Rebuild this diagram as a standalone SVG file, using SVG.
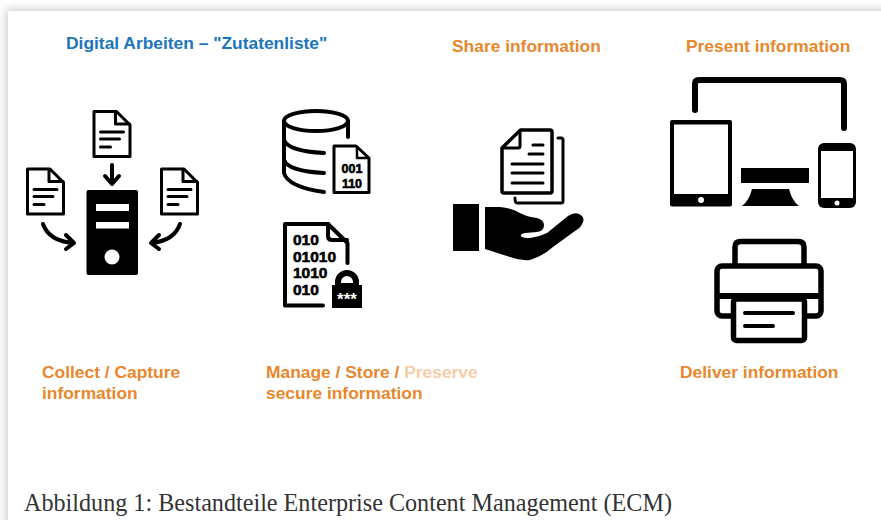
<svg xmlns="http://www.w3.org/2000/svg" width="881" height="520" viewBox="0 0 881 520">
<style>
.o{font:bold 17.400px "Liberation Sans",Arial,sans-serif;fill:#E8872B}
.b{font:bold 17.400px "Liberation Sans",Arial,sans-serif;fill:#1C75BC}
.c{font:25.500px "Liberation Serif","Times New Roman",serif;fill:#333}
.k{fill:none;stroke:#000;stroke-linejoin:round;stroke-linecap:round}
.n{font:bold 15.500px "Liberation Sans",Arial,sans-serif;fill:#000;stroke:#000;stroke-width:.6px}
</style>
<defs>
<filter id="sh" x="-5%" y="-5%" width="110%" height="110%"><feGaussianBlur stdDeviation="4"/></filter>
<g id="doc">
<path d="M1.500 1.500H24L37.500 15V46.500H1.500Z" fill="#fff" stroke="#000" stroke-width="3" stroke-linejoin="round"/>
<path d="M23 2V14H37M8 22H31M8 29H27M8 37H18" class="k" stroke-width="3"/>
</g>
</defs>
<rect width="881" height="520" fill="#fff"/>
<rect x="6" y="9" width="900" height="540" fill="#ccc" filter="url(#sh)"/>
<rect x="8" y="11" width="880" height="520" fill="#fff"/>

<g id="title"><text class="b" x="66" y="49">Digital Arbeiten – "Zutatenliste"</text></g>

<g id="collect">
<use href="#doc" x="92.500" y="110"/>
<use href="#doc" x="26" y="167.500"/>
<use href="#doc" x="160" y="167.500"/>
<rect x="86.500" y="190" width="51.500" height="85" rx="2" fill="#000"/>
<rect x="96" y="204" width="33" height="7" fill="#fff"/>
<rect x="96" y="222" width="33" height="6.500" fill="#fff"/>
<circle cx="112" cy="257" r="7.500" fill="#fff"/>
<text class="o" x="42" y="377.500">Collect / Capture</text>
<text class="o" x="42" y="398.500">information</text>
</g>

<g id="connectors">
<path d="M112 165V183M105 176L112 184L119 176" class="k" stroke-width="4"/>
<path d="M43 224Q49 241 73 243M66 235L74 243L66 249" class="k" stroke-width="4"/>
<path d="M180 224Q174 241 151 243M159 235L151 243L159 249" class="k" stroke-width="4"/>
</g>

<g id="manage">
<ellipse cx="316" cy="121" rx="32" ry="10" fill="none" stroke="#000" stroke-width="4"/>
<path d="M284 121V173Q288 187 324 192M348 121V137M284 140Q288 151 324 153M284 160Q288 171 324 173" class="k" stroke-width="4" stroke-linecap="butt"/>
<path d="M334 146H356L369 158V192.500H334Z" fill="#fff" stroke="#000" stroke-width="3" stroke-linejoin="round"/>
<path d="M357 147V158H368" class="k" stroke-width="2.500"/>
<text class="n" style="font-size:12.500px" x="352" y="173" text-anchor="middle">001</text>
<text class="n" style="font-size:12.500px" x="352" y="188" text-anchor="middle">110</text>
<path d="M323 305.500H285V224H328L347.500 243V263" class="k" stroke-width="4" stroke-linecap="butt"/>
<path d="M328 224V236Q328 240 332 240H347" class="k" stroke-width="4"/>
<text class="n" x="293" y="245">010</text>
<text class="n" x="293" y="261.500">01010</text>
<text class="n" x="293" y="278">1010</text>
<text class="n" x="293" y="295">010</text>
<path d="M338 286V282A9 9 0 0 1 356 282V286Z" fill="none" stroke="#000" stroke-width="6"/>
<rect x="332" y="285" width="30" height="23" fill="#000"/>
<text x="347" y="305" text-anchor="middle" style="font:bold 17px 'Liberation Sans',Arial,sans-serif;fill:#fff">***</text>
<text class="o" x="266" y="377.500">Manage / Store / <tspan fill="#F6CDA6">Preserve</tspan></text>
<text class="o" x="266" y="398.500">secure information</text>
</g>

<g id="share">
<text class="o" x="452" y="51.500">Share information</text>
<path d="M520.500 130H550Q552 130 552 132V191Q552 193 550 193H504Q502 193 502 191V148Z" fill="#fff" stroke="#000" stroke-width="3.500" stroke-linejoin="round"/>
<path d="M520 131V146Q520 148 518 148H503M533 145H543M529 154H543M512 164H543M512 173H543M512 183H543" class="k" stroke-width="3"/>
<path d="M558 138H561Q563 138 563 140V201Q563 203 561 203H517Q515 203 515 198" class="k" stroke-width="3"/>
<rect x="453" y="204" width="26" height="47" fill="#000"/>
<path d="M485 207H500Q512 208 520 213Q527 217 537 218Q544 220 544 225Q544 231 537 232L525 233Q520 234 521 236Q522 238 530 238Q539 237 547 233L568 216Q574 212 579 214Q585 217 583 222Q581 228 575 231L553 247Q543 256 530 260Q520 261 510 257L485 249Z" fill="#000"/>
</g>

<g id="present">
<text class="o" x="686" y="51.500">Present information</text>
<path d="M695 110V84Q695 80 699 80H840Q844 80 844 84V128" class="k" stroke-width="6" stroke-linecap="butt"/>
<rect x="670" y="120" width="62" height="86.500" rx="2" fill="#000"/>
<rect x="674" y="124.500" width="54" height="69.500" fill="#fff"/>
<circle cx="701" cy="200" r="3" fill="#fff"/>
<rect x="741" y="168" width="68" height="15" fill="#000"/>
<path d="M752 189H789Q792 201 799 206H742Q749 201 752 189Z" fill="#000"/>
<rect x="818" y="143" width="38" height="65" rx="6" fill="#000"/>
<rect x="821" y="151" width="32" height="47" fill="#fff"/>
<circle cx="837" cy="203" r="2.500" fill="#fff"/>
</g>

<g id="deliver">
<path d="M735 264V247Q735 241.500 741 241.500H798Q804 241.500 804 247V264" class="k" stroke-width="5.500"/>
<rect x="717" y="266" width="104" height="50" rx="5" fill="#fff" stroke="#000" stroke-width="5.500"/>
<rect x="717" y="293" width="104" height="6" fill="#000"/>
<rect x="733.500" y="299" width="71" height="41.500" rx="3" fill="#fff" stroke="#000" stroke-width="5.500"/>
<path d="M745 313H793M745 326H773" class="k" stroke-width="4"/>
<text class="o" x="680" y="377.500">Deliver information</text>
</g>

<g id="caption"><text class="c" x="24" y="511" textLength="648" lengthAdjust="spacingAndGlyphs">Abbildung 1: Bestandteile Enterprise Content Management (ECM)</text></g>
</svg>
